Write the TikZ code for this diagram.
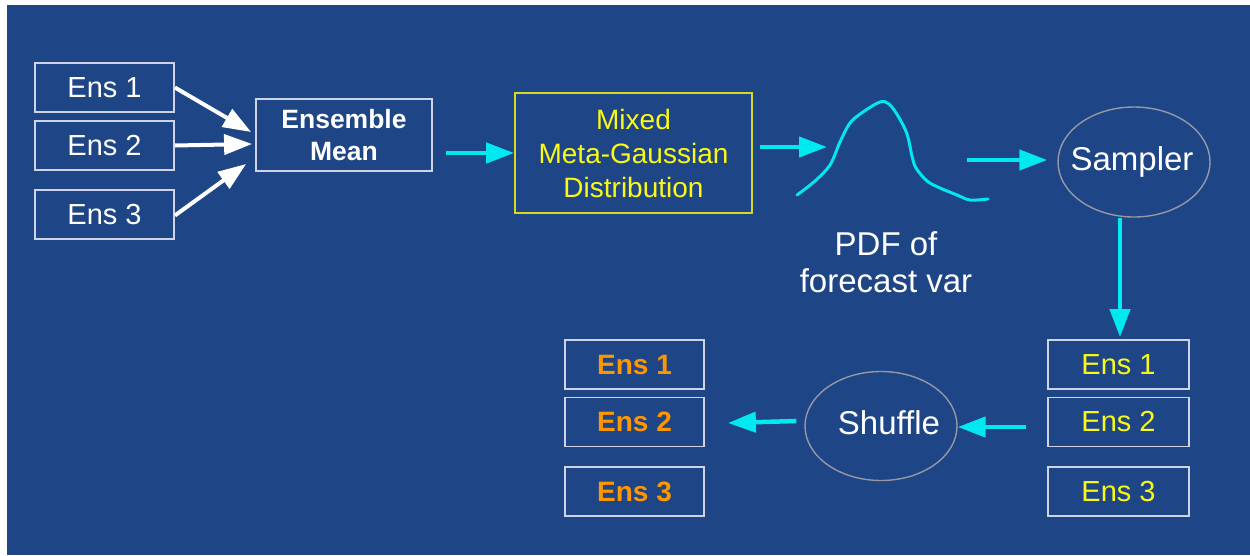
\documentclass[tikz,border=0pt]{standalone}
\usepackage{fontspec}
\setmainfont{Liberation Sans}
\usetikzlibrary{arrows.meta,shapes.geometric}
\definecolor{bg}{RGB}{30,69,134}
\definecolor{boxline}{RGB}{205,212,228}
\definecolor{ellline}{RGB}{150,152,165}
\definecolor{cyanarrow}{RGB}{0,232,240}
\definecolor{yel}{RGB}{250,250,20}
\definecolor{yelline}{RGB}{215,215,40}
\definecolor{orng}{RGB}{255,150,0}
\tikzset{
  ensbox/.style={draw=boxline, line width=1.8pt, minimum width=139pt, minimum height=49pt, inner sep=0pt,
    font=\fontsize{29}{34}\selectfont},
  oval/.style={ellipse, draw=ellline, line width=1.4pt, minimum width=152pt, minimum height=110pt, inner sep=0pt},
  warrow/.style={draw=white, line width=4pt, -{Triangle[length=28pt,width=20pt]}},
  carrow/.style={draw=cyanarrow, line width=4.5pt, -{Triangle[length=28pt,width=20pt]}},
}
\begin{document}
\begin{tikzpicture}[x=1pt,y=-1pt]
\useasboundingbox (0,0) rectangle (1250,555);
\fill[white] (0,0) rectangle (1250,555);
\fill[bg] (7,5) rectangle (1250,555);

% left ensemble boxes
\node[ensbox, text=white] (e1) at (104.5,87.5) {Ens 1};
\node[ensbox, text=white] (e2) at (104.5,145.5) {Ens 2};
\node[ensbox, text=white] (e3) at (104.5,214.5) {Ens 3};

% ensemble mean
\node[draw=boxline, line width=1.8pt, minimum width=176pt, minimum height=72pt, inner sep=0pt,
  text=white, align=center, font=\bfseries\fontsize{26.5}{32}\selectfont] (mean) at (344,135) {Ensemble\\Mean};

% mixed meta-gaussian
\node[draw=yelline, line width=1.6pt, minimum width=237pt, minimum height=120pt, inner sep=0pt,
  text=yel, align=center, font=\fontsize{28}{34}\selectfont] (mixed) at (633.5,153) {Mixed\\Meta-Gaussian\\Distribution};

% pdf curve
\draw[cyanarrow, line width=3pt, line cap=round, line join=round]
  plot[smooth, tension=0.55] coordinates {(797,195) (815,181) (830,165) (840,142) (850,123) (863,112) (880,102) (889,104) (898,116) (907,134) (912,156) (916,168) (927,181) (940,188) (957,195) (970,200) (988,199)};
\coordinate (pdfin) at (827,147);
\node[text=white, align=center, font=\fontsize{33}{37}\selectfont] (pdflabel) at (886,262) {PDF of\\forecast var};

% sampler
\node[oval] (sampler) at (1134,162) {};
\node[text=white, font=\fontsize{33}{37}\selectfont] (samplertext) at (1132,162) {Sampler};
\coordinate (sampin) at (967,160);

% right ensemble boxes
\node[ensbox, text=yel, minimum width=141pt] (r1) at (1118.5,364.5) {Ens 1};
\node[ensbox, text=yel, minimum width=141pt] (r2) at (1118.5,422) {Ens 2};
\node[ensbox, text=yel, minimum width=141pt] (r3) at (1118.5,491.5) {Ens 3};

% shuffle
\node[oval, minimum height=109pt] (shuffle) at (881,426) {};
\node[text=white, font=\fontsize{33}{37}\selectfont] (shuffletext) at (889,423) {Shuffle};

% bottom-left ensemble boxes
\node[ensbox, text=orng, font=\bfseries\fontsize{28}{34}\selectfont] (l1) at (634.5,364.5) {Ens 1};
\node[ensbox, text=orng, font=\bfseries\fontsize{28}{34}\selectfont] (l2) at (634.5,422) {Ens 2};
\node[ensbox, text=orng, font=\bfseries\fontsize{28}{34}\selectfont] (l3) at (634.5,491.5) {Ens 3};

% white arrows
\draw[warrow] (e1.east) -- ([xshift=-4pt,yshift=3pt]mean.west);
\draw[warrow] (e2.east) -- ([xshift=-3pt,yshift=-9pt]mean.west);
\draw[warrow] ([yshift=-1pt]e3.east) -- ([xshift=-9pt,yshift=-29pt]mean.west);

% cyan arrows
\draw[carrow] ([xshift=13pt]mean.east |- mixed.west) -- (mixed.west);
\draw[carrow] ([xshift=7pt,yshift=6pt]mixed.east) -- (pdfin);
\draw[carrow] (sampin) -- ([xshift=-10pt,yshift=2pt]sampler.west);
\draw[carrow] ([xshift=1.5pt]sampler.south -| r1.north) -- ([xshift=1.5pt,yshift=2pt]r1.north);
\draw[carrow] ([xshift=-21pt,yshift=-5pt]r2.west) -- ([yshift=-1pt]shuffle.east);
\draw[carrow] ([xshift=-8pt,yshift=5pt]shuffle.west) -- ([xshift=23pt,yshift=-1pt]l2.east);
\end{tikzpicture}
\end{document}
